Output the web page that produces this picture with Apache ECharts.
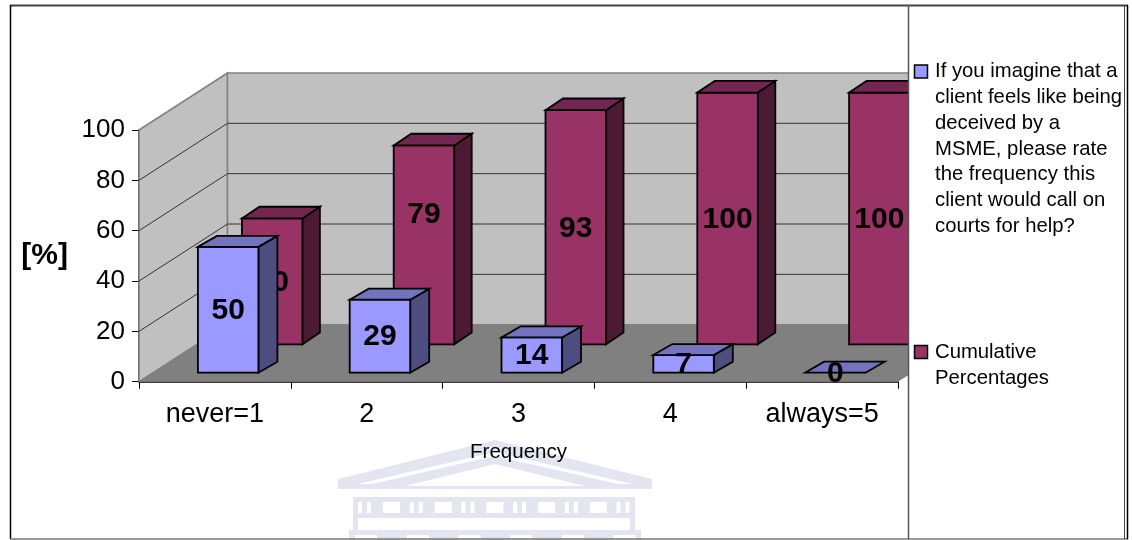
<!DOCTYPE html>
<html><head><meta charset="utf-8">
<style>html,body{margin:0;padding:0;background:#fff}#c{width:1132px;height:540px}</style>
<script src="https://cdn.jsdelivr.net/npm/echarts@6/dist/echarts.min.js"></script>
</head><body><div id="c"></div>
<script>
const categories = ['never=1','2','3','4','always=5'];
const answerValues = [50,29,14,7,0];
const cumulativeValues = [50,79,93,100,100];
const yTicks = [0,20,40,60,80,100];
const answerName = 'If you imagine that a\nclient feels like being\ndeceived by a\nMSME, please rate\nthe frequency this\nclient would call on\ncourts for help?';
const cumulativeName = 'Cumulative\nPercentages';
const xName = 'Frequency';
const yName = '[%]';

const FONT = '"Liberation Sans", Arial, sans-serif';
const DEPTH = [88.5,-57];

function shade(points, fill, stroke, lw){
  return {type:'polygon', shape:{points}, style:{fill, stroke, lineWidth:lw===undefined?1.8:lw}};
}
function wallItem(params, api){
  const cs = params.coordSys, v = api.value(1), y = api.coord([0,v])[1];
  const x0 = cs.x, x1 = cs.x+cs.width, [dx,dy] = DEPTH;
  const kids = [];
  if (params.dataIndex === 0){
    const top = api.coord([0,yTicks[yTicks.length-1]])[1];
    kids.push(shade([[x0,y],[x0,top],[x0+dx,top+dy],[x0+dx,y+dy]],'#c0c0c0','#808080',1.5));
    kids.push(shade([[x0+dx,top+dy],[x1+dx,top+dy],[x1+dx,y+dy],[x0+dx,y+dy]],'#c0c0c0','#808080',1.5));
    kids.push(shade([[x0,y],[x1,y],[x1+dx,y+dy],[x0+dx,y+dy]],'#808080','#808080',0));
  } else if (v < yTicks[yTicks.length-1]){
    kids.push({type:'polyline',shape:{points:[[x0,y],[x0+dx,y+dy],[x1+dx,y+dy]]},style:{fill:'none',stroke:'#333',lineWidth:1}});
  }
  return {type:'group',children:kids};
}
function boxItem(opts){
  return function(params, api){
    const i = api.value(0), v = api.value(1);
    const base = api.coord([i,0]), topP = api.coord([i,v]);
    const l = base[0]-31+opts.dx, r = l+60.5;
    const b = base[1]+opts.dy, t = topP[1]+opts.dy;
    const sx = opts.sx, sy = opts.sy;
    const kids = [];
    if (v > 0){
      kids.push(shade([[r,t],[r+sx,t+sy],[r+sx,b+sy],[r,b]],opts.side,'#000'));
      kids.push(shade([[l,t],[r,t],[r,b],[l,b]],opts.front,'#000'));
    }
    kids.push(shade([[l,t],[l+sx,t+sy],[r+sx,t+sy],[r,t]],opts.top,'#000'));
    const nudge = (opts.nudge && opts.nudge[i]) || 0;
    kids.push({type:'text',style:{text:String(v),x:(l+r)/2,y:(t+b)/2+1+nudge,align:'center',verticalAlign:'middle',
      fill:'#000',font:'bold 30px '+FONT}});
    return {type:'group',children:kids};
  };
}
const roofC = '#e3e6f0';
function wm(points,fill){return {type:'polygon',silent:true,z:-1,shape:{points},style:{fill:fill||roofC}};}
function wr(x,y,w,h,fill){return {type:'rect',silent:true,z:-1,shape:{x,y,width:w,height:h},style:{fill:fill||roofC}};}
const watermark = [
  wm([[338,479],[495,440],[652,479],[652,489],[338,489]]),
  wm([[358,484],[495,452],[632,484],[618,484],[495,456],[372,484]],'#fff'),
  wm([[405,486],[495,464],[585,486]],'#fff'),
  wr(347,489,298,8,'#fff'),
  wr(353,497,282,33),
  wr(349,530,292,10)
];
for (let k=0;k<6;k++){
  const x0 = 358+k*51.7;
  watermark.push(wr(x0,502,4,11,'#fff'),wr(x0+9,502,4,11,'#fff'));
  if (k<5) watermark.push(wr(x0+25,502,17,11,'#fff'));
}
watermark.push(wr(358,518,272,12,'#fff'));
for (let k=0;k<6;k++) watermark.push(wr(355+k*51.7,535,22,4,'#fff'));

const frame = [
  {type:'rect',z:50,silent:true,shape:{x:909,y:6,width:216,height:533},style:{fill:'#fff'}},
  {type:'rect',z:50,silent:true,shape:{x:1128,y:0,width:4,height:540},style:{fill:'#fff'}},
  {type:'line',z:51,silent:true,shape:{x1:10,y1:5.5,x2:1128,y2:5.5},style:{stroke:'#444',lineWidth:2}},
  {type:'line',z:51,silent:true,shape:{x1:10.5,y1:5,x2:10.5,y2:539},style:{stroke:'#000',lineWidth:1.5}},
  {type:'line',z:51,silent:true,shape:{x1:10,y1:539,x2:1128,y2:539},style:{stroke:'#777',lineWidth:1.5}},
  {type:'line',z:51,silent:true,shape:{x1:908.5,y1:5,x2:908.5,y2:539},style:{stroke:'#555',lineWidth:1.5}},
  {type:'line',z:51,silent:true,shape:{x1:1124.5,y1:5,x2:1124.5,y2:539},style:{stroke:'#444',lineWidth:1}},
  {type:'line',z:51,silent:true,shape:{x1:1127.5,y1:5,x2:1127.5,y2:539},style:{stroke:'#000',lineWidth:1.5}},
  {type:'rect',z:52,silent:true,shape:{x:914.5,y:65,width:13,height:13},style:{fill:'#9999ff',stroke:'#000',lineWidth:1.5}},
  {type:'rect',z:52,silent:true,shape:{x:914.5,y:345.5,width:13,height:13},style:{fill:'#993366',stroke:'#000',lineWidth:1.5}},
  {type:'text',z:52,silent:true,style:{text:answerName,x:935,y:59,fill:'#000',font:'20.3px '+FONT,lineHeight:25.7}},
  {type:'text',z:52,silent:true,style:{text:cumulativeName,x:935,y:340,fill:'#000',font:'20.3px '+FONT,lineHeight:25.7}}
];

const chart = echarts.init(document.getElementById('c'),null,{renderer:'canvas'});
chart.setOption({
  animation:false,
  backgroundColor:'#fff',
  grid:{left:139,right:234,top:130,bottom:158.3,containLabel:false},
  tooltip:{show:false},
  xAxis:{type:'category',data:categories,boundaryGap:true,
    name:xName,nameLocation:'middle',nameGap:60,
    nameTextStyle:{fontFamily:FONT,fontSize:20.5,color:'#000'},
    axisLine:{lineStyle:{color:'#000',width:1.5}},
    axisTick:{show:true,length:7,lineStyle:{color:'#000',width:1}},
    axisLabel:{fontFamily:FONT,fontSize:27,color:'#000',margin:19,interval:0},
    splitLine:{show:false}},
  yAxis:{type:'value',min:0,max:100,interval:20,
    name:yName,nameLocation:'middle',nameGap:71,nameRotate:0,
    nameTextStyle:{fontFamily:FONT,fontSize:30,fontWeight:'bold',color:'#000',padding:[5,0,0,0]},
    axisLine:{show:true,lineStyle:{color:'#000',width:1.5}},
    axisTick:{show:true,length:7,lineStyle:{color:'#000',width:1}},
    axisLabel:{fontFamily:FONT,fontSize:26,color:'#000',margin:14},
    splitLine:{show:false}},
  graphic:{elements:[...watermark,...frame]},
  series:[
    {type:'custom',name:'walls',z:1,silent:true,clip:false,renderItem:wallItem,
     encode:{x:0,y:1},data:yTicks.map(v=>[0,v])},
    {type:'custom',name:cumulativeName,z:3,silent:true,clip:false,
     renderItem:boxItem({dx:58,dy:-37.4,sx:17.5,sy:-11.7,front:'#993366',side:'#4d1a33',top:'#732650',nudge:{1:-31}}),
     encode:{x:0,y:1},data:cumulativeValues.map((v,i)=>[i,v])},
    {type:'custom',name:answerName,z:4,silent:true,clip:false,
     renderItem:boxItem({dx:14,dy:-9,sx:19,sy:-11,front:'#9999ff',side:'#4d4d80',top:'#7373bf'}),
     encode:{x:0,y:1},data:answerValues.map((v,i)=>[i,v])}
  ]
});
</script></body></html>
